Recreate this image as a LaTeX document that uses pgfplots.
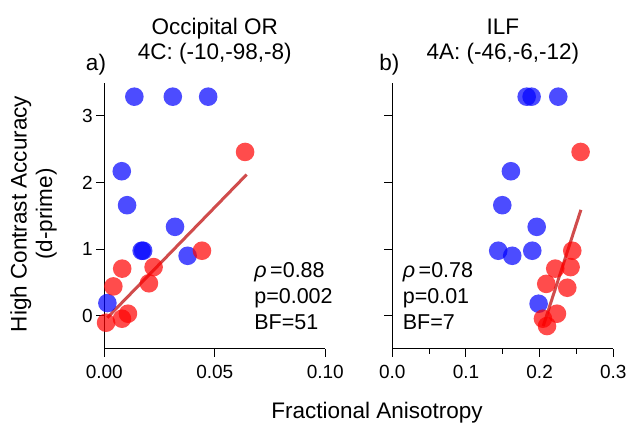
\documentclass[border=0pt]{standalone}
\usepackage{fontspec}
\setmainfont{Liberation Sans}
\usepackage{pgfplots}
\pgfplotsset{compat=1.18}

\definecolor{fitred}{RGB}{200,45,45}

% subjects: same d-prime values in both panels
\pgfplotstableread{
x y
0.0136 3.29
0.0310 3.29
0.0470 3.29
0.0079 2.17
0.0103 1.66
0.0320 1.335
0.0169 0.976
0.0176 0.976
0.0377 0.90
0.0014 0.19
}\orBlue
\pgfplotstableread{
x y
0.0637 2.46
0.0442 0.976
0.0081 0.707
0.0223 0.73
0.0041 0.44
0.0202 0.487
0.0107 0.03
0.0080 -0.045
0.0008 -0.105
}\orRed
\pgfplotstableread{
x y
0.1824 3.29
0.1891 3.29
0.2253 3.29
0.1610 2.17
0.1493 1.66
0.1960 1.335
0.1438 0.976
0.1900 0.976
0.1628 0.90
0.1986 0.18
}\ilfBlue
\pgfplotstableread{
x y
0.2556 2.46
0.2443 0.976
0.2212 0.707
0.2420 0.73
0.2090 0.478
0.2375 0.42
0.2235 0.03
0.2045 -0.045
0.2100 -0.155
}\ilfRed

\pgfplotsset{
  panel/.style={
    scale only axis, width=221bp, height=266.3bp,
    axis lines=left, axis line style={-, line width=1bp},
    tick align=outside, major tick length=8bp, minor tick length=5bp,
    tick style={line width=1bp, black},
    ymin=-0.5, ymax=3.5, ytick={0,1,2,3},
    clip=false,
    tick label style={font=\fontsize{19bp}{22bp}\selectfont},
    xticklabel style={yshift=-5bp},
    /pgf/number format/assume math mode=true,
  },
  dots/.style={only marks, mark=*, mark size=9.3bp,
    mark options={draw=none, draw opacity=0, line width=0pt, fill=#1, fill opacity=0.7}},
  fitline/.style={no marks, line width=3bp, color=fitred, opacity=0.85},
}
\tikzset{note/.style={anchor=base west, font=\fontsize{21.5bp}{24bp}\selectfont}}

\begin{document}
\begin{tikzpicture}
\useasboundingbox (0,0) rectangle (627bp,423bp);

\begin{axis}[panel, at={(104.3bp,74bp)}, anchor=south west,
  xmin=0, xmax=0.1, xtick={0,0.05,0.1}, xticklabels={0.00,0.05,0.10}]
\addplot[dots=blue] table {\orBlue};
\addplot[dots=red] table {\orRed};
\addplot[fitline] coordinates {(0.00136,-0.03) (0.0644,2.12)};
\node[note] at (axis cs:0.0663,0.57) {\textit{ρ}\,=0.88};
\node[note] at (axis cs:0.0663,0.18) {p=0.002};
\node[note] at (axis cs:0.0663,-0.21) {BF=51};
\end{axis}

\begin{axis}[panel, at={(392.3bp,74bp)}, anchor=south west,
  xmin=0, xmax=0.3, xtick={0,0.1,0.2,0.3}, xticklabels={0.0,0.1,0.2,0.3},
  minor xtick={0.05,0.15,0.25}, yticklabels={}]
\addplot[dots=blue] table {\ilfBlue};
\addplot[dots=red] table {\ilfRed};
\addplot[fitline] coordinates {(0.2049,-0.155) (0.256,1.59)};
\node[note] at (axis cs:0.0095,0.57) {\textit{ρ}\,=0.78};
\node[note] at (axis cs:0.0095,0.18) {p=0.01};
\node[note] at (axis cs:0.0095,-0.21) {BF=7};
\end{axis}

\begin{scope}[every node/.style={font=\fontsize{22.5bp}{25bp}\selectfont, inner sep=0pt}]
\node[anchor=base] at (214.8bp,388bp) {Occipital OR};
\node[anchor=base] at (214.8bp,363bp) {4C: (-10,-98,-8)};
\node[anchor=base] at (502.8bp,388bp) {ILF};
\node[anchor=base] at (502.8bp,363bp) {4A: (-46,-6,-12)};
\node[anchor=base] at (96bp,352bp) {a)};
\node[anchor=base] at (389.3bp,352bp) {b)};
\node[anchor=base] at (377bp,5bp) {Fractional Anisotropy};
\node[anchor=base, rotate=90] at (26.7bp,209bp) {High Contrast Accuracy};
\node[anchor=base, rotate=90] at (52bp,209bp) {(d-prime)};
\end{scope}
\end{tikzpicture}
\end{document}
